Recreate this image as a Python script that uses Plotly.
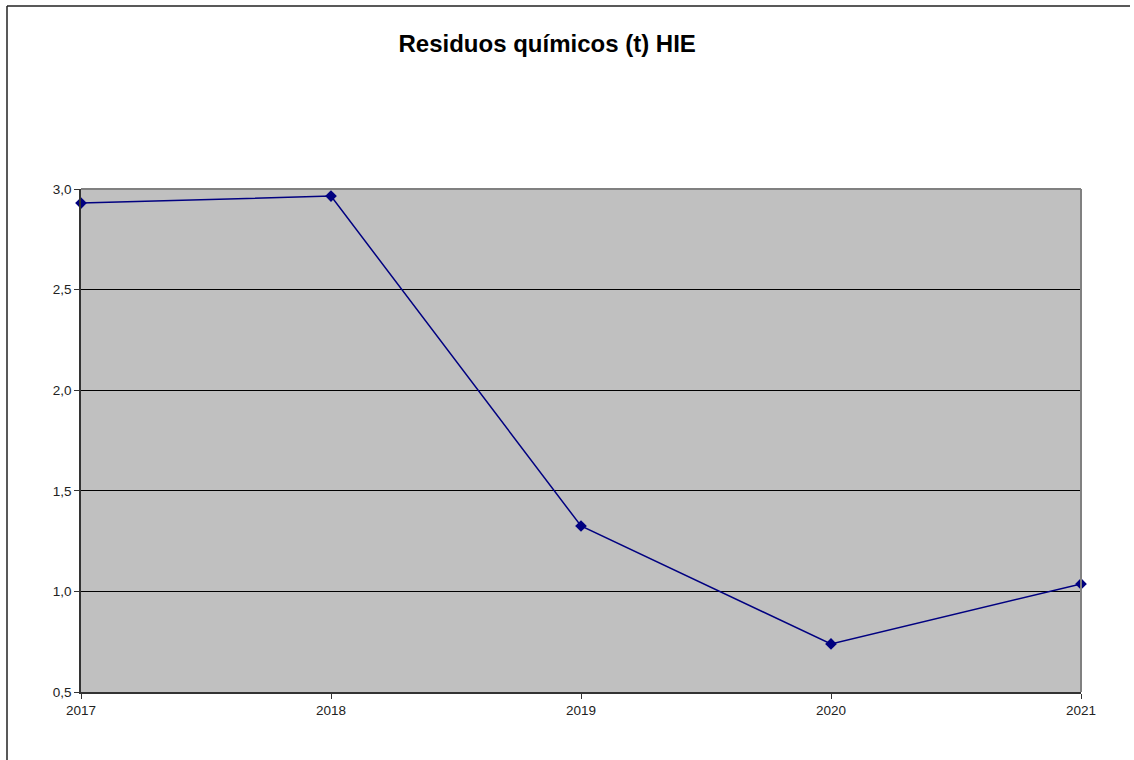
import plotly.graph_objects as go

years = [2017, 2018, 2019, 2020, 2021]
residuos_t = [2.93, 2.965, 1.325, 0.739, 1.037]
y_ticks = [0.5, 1.0, 1.5, 2.0, 2.5, 3.0]

fig = go.Figure()
fig.add_trace(go.Scatter(
    x=years, y=residuos_t, mode="lines+markers",
    line=dict(color="#000080", width=1.5),
    marker=dict(symbol="diamond", size=9, color="#000080"),
    cliponaxis=False, showlegend=False,
))

fig.update_layout(
    width=1134, height=760,
    margin=dict(l=81, r=53, t=189, b=68),
    paper_bgcolor="white", plot_bgcolor="#C0C0C0",
    separators=",.",
    font=dict(family="Liberation Sans, Arial, sans-serif", size=13.5, color="#222222"),
    title=dict(text="<b>Residuos químicos (t) HIE</b>", x=0.4825, xanchor="center",
               y=1 - 44 / 760, yanchor="middle",
               font=dict(size=24, color="black")),
    xaxis=dict(range=[2017, 2021], tickmode="array", tickvals=years,
               ticktext=[str(v) for v in years],
               showgrid=False, zeroline=False,
               showline=True, linecolor="#333333", linewidth=1.5,
               ticks="outside", ticklen=5, tickcolor="#333333"),
    yaxis=dict(range=[0.5, 3.0], tickmode="array", tickvals=y_ticks, tickformat=".1f",
               showgrid=True, gridcolor="#000000", gridwidth=1, zeroline=False,
               showline=True, linecolor="#333333", linewidth=1.5,
               ticks="outside", ticklen=5, tickcolor="#333333"),
    shapes=[
        # grey top and right edges of the plot area
        dict(type="line", xref="paper", yref="paper", x0=0, x1=1, y0=1, y1=1,
             line=dict(color="#808080", width=2)),
        dict(type="line", xref="paper", yref="paper", x0=1, x1=1, y0=0, y1=1,
             line=dict(color="#808080", width=2)),
        # outer chart frame
        dict(type="line", xref="paper", yref="paper",
             x0=-74 / 1000, x1=1049 / 1000, y0=1 + 183 / 503, y1=1 + 183 / 503,
             line=dict(color="#222222", width=1.5)),
        dict(type="line", xref="paper", yref="paper",
             x0=-74 / 1000, x1=-74 / 1000, y0=1 + 183 / 503, y1=-68 / 503,
             line=dict(color="#222222", width=1.5)),
    ],
)

fig.write_html("out.html")
